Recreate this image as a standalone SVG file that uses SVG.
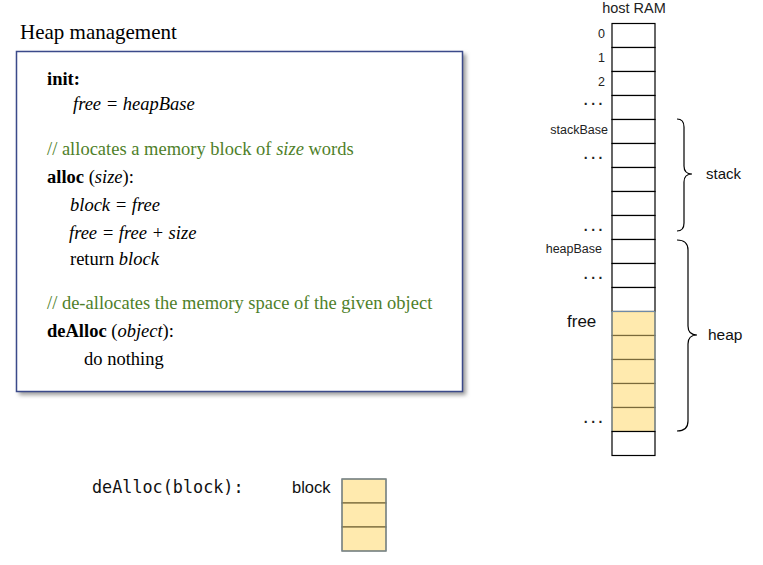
<svg xmlns="http://www.w3.org/2000/svg" width="763" height="565" viewBox="0 0 763 565">
<style>
.serif{font-family:"Liberation Serif","Times New Roman",serif;font-size:18.5px;fill:#000}
.b{font-weight:bold}
.i{font-style:italic}
.cm{fill:#4f7f2a}
.lbl{font-family:"Liberation Sans",Arial,sans-serif;font-size:12.5px;fill:#222}
.big{font-family:"Liberation Sans",Arial,sans-serif;font-size:17px;fill:#111}
.cell{fill:#fff;stroke:#000;stroke-width:1.2}
.ycell{fill:#ffeaae;stroke:#7a6a3a;stroke-width:1.2}
.brace{fill:none;stroke:#000;stroke-width:1.2}
.dots{font-family:"Liberation Sans",Arial,sans-serif;font-size:14px;font-weight:bold;fill:#222;letter-spacing:3.5px}
</style>
<defs>
<filter id="sh" x="-5%" y="-5%" width="115%" height="115%">
<feGaussianBlur stdDeviation="2"/>
</filter>
</defs>
<rect width="763" height="565" fill="#fff"/>

<g id="title">
<text x="20" y="39" font-family="Liberation Serif,serif" font-size="21" fill="#000">Heap management</text>
</g>

<g id="code-box">
<rect x="19" y="54" width="447" height="341" fill="#999" filter="url(#sh)"/>
<rect x="16.5" y="51.5" width="446" height="340" fill="#fff" stroke="#3b4a8a" stroke-width="1.5"/>
<text class="serif b" x="47" y="85">init:</text>
<text class="serif i" x="73" y="110">free = heapBase</text>
<text class="serif cm" x="47" y="155">// allocates a memory block of <tspan class="i">size</tspan> words</text>
<text class="serif" x="47" y="183"><tspan class="b">alloc</tspan> (<tspan class="i">size</tspan>):</text>
<text class="serif i" x="70" y="211">block = free</text>
<text class="serif i" x="69" y="239">free = free + size</text>
<text class="serif" x="70" y="265">return <tspan class="i">block</tspan></text>
<text class="serif cm" x="47" y="309">// de-allocates the memory space of the given object</text>
<text class="serif" x="47" y="337"><tspan class="b">deAlloc</tspan> (<tspan class="i">object</tspan>):</text>
<text class="serif" x="84" y="365">do nothing</text>
</g>

<g id="host-ram">
<text x="634" y="13" text-anchor="middle" font-family="Liberation Sans,Arial,sans-serif" font-size="14.5" fill="#222">host RAM</text>
<rect class="cell" x="612" y="23.5" width="43" height="24"/>
<rect class="cell" x="612" y="47.5" width="43" height="24"/>
<rect class="cell" x="612" y="71.5" width="43" height="24"/>
<rect class="cell" x="612" y="95.5" width="43" height="24"/>
<rect class="cell" x="612" y="119.5" width="43" height="24"/>
<rect class="cell" x="612" y="143.5" width="43" height="24"/>
<rect class="cell" x="612" y="167.5" width="43" height="24"/>
<rect class="cell" x="612" y="191.5" width="43" height="24"/>
<rect class="cell" x="612" y="215.5" width="43" height="24"/>
<rect class="cell" x="612" y="239.5" width="43" height="24"/>
<rect class="cell" x="612" y="263.5" width="43" height="24"/>
<rect class="cell" x="612" y="287.5" width="43" height="24"/>
<rect class="ycell" x="612" y="311.5" width="43" height="24"/>
<rect class="ycell" x="612" y="335.5" width="43" height="24"/>
<rect class="ycell" x="612" y="359.5" width="43" height="24"/>
<rect class="ycell" x="612" y="383.5" width="43" height="24"/>
<rect class="ycell" x="612" y="407.5" width="43" height="24"/>
<rect x="612" y="311.5" width="43" height="120" fill="none" stroke="#6f8aa8" stroke-width="1"/>
<rect class="cell" x="612" y="431.5" width="43" height="24"/>
<text class="lbl" x="605" y="38" text-anchor="end">0</text>
<text class="lbl" x="605" y="62" text-anchor="end">1</text>
<text class="lbl" x="605" y="86" text-anchor="end">2</text>
<text class="dots" x="606" y="105" text-anchor="end">...</text>
<text class="lbl" x="608" y="134" text-anchor="end">stackBase</text>
<text class="dots" x="606" y="159" text-anchor="end">...</text>
<text class="dots" x="606" y="231" text-anchor="end">...</text>
<text class="lbl" x="602" y="253" text-anchor="end">heapBase</text>
<text class="dots" x="606" y="279" text-anchor="end">...</text>
<text class="big" x="567" y="327">free</text>
<text class="dots" x="606" y="423" text-anchor="end">...</text>
</g>

<g id="stack-brace">
<path class="brace" d="M677,119 Q684,119 684,127 L684,166 Q684,174 692,174 Q684,174 684,182 L684,223 Q684,231 677,231"/>
<text x="706" y="179" font-family="Liberation Sans,Arial,sans-serif" font-size="15" fill="#111">stack</text>
</g>

<g id="heap-brace">
<path class="brace" d="M677,240 Q688,240 688,250 L688,326 Q688,335 697,335 Q688,335 688,344 L688,421 Q688,431 677,431"/>
<text x="708" y="340" font-family="Liberation Sans,Arial,sans-serif" font-size="15.5" fill="#111">heap</text>
</g>

<g id="dealloc-example">
<text x="92" y="493" font-family="DejaVu Sans Mono,monospace" font-size="16.8" fill="#111">deAlloc(block):</text>
<text x="292" y="493" font-family="Liberation Sans,Arial,sans-serif" font-size="16.5" fill="#111">block</text>
<rect class="ycell" x="342" y="479" width="44" height="24"/>
<rect class="ycell" x="342" y="503" width="44" height="24"/>
<rect class="ycell" x="342" y="527" width="44" height="24"/>
<rect x="342" y="479" width="44" height="72" fill="none" stroke="#6f8aa8" stroke-width="1"/>
</g>
</svg>
